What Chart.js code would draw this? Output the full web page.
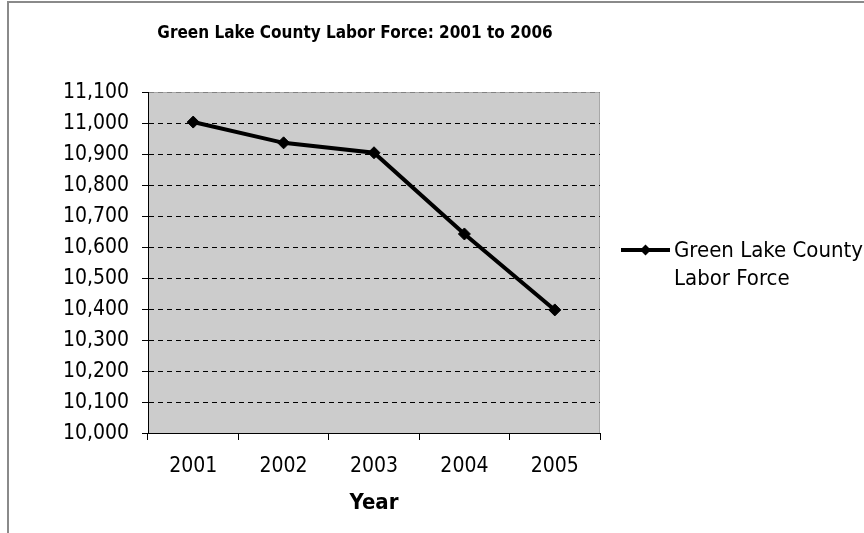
<!DOCTYPE html>
<html>
<head>
<meta charset="utf-8">
<script src="https://cdn.jsdelivr.net/npm/chart.js@4/dist/chart.umd.min.js"></script>
<style>
  html, body { margin: 0; padding: 0; background: #fff; overflow: hidden; }
  #wrap { position: relative; width: 864px; height: 533px; }
  #frame { position: absolute; left: 7px; top: 1px; width: 900px; height: 600px; border: 2px solid #8a8a8a; }
  canvas { position: absolute; left: 0; top: 0; }
</style>
</head>
<body>
<div id="wrap">
  <div id="frame"></div>
  <canvas id="chart" width="864" height="533"></canvas>
</div>
<script>
var FONT = "'DejaVu Sans Condensed', 'DejaVu Sans', sans-serif";

var chartTitle = 'Green Lake County Labor Force: 2001 to 2006';
var xTitle = 'Year';
var seriesName = 'Green Lake County Labor Force';
var years = ['2001', '2002', '2003', '2004', '2005'];
var laborForce = [11003, 10936, 10904, 10642, 10397];
var yMin = 10000, yMax = 11100, yStep = 100;

// plot background, title and the side legend
var decor = {
    id: 'decor',
    beforeDraw: function(chart) {
        var ctx = chart.ctx, a = chart.chartArea;
        ctx.save();
        ctx.fillStyle = '#cccccc';
        ctx.fillRect(a.left, a.top, a.right - a.left, a.bottom - a.top);
        ctx.strokeStyle = '#a8a8a8';
        ctx.lineWidth = 1;
        ctx.beginPath();
        ctx.moveTo(a.left, a.top + 0.5);
        ctx.lineTo(a.right - 0.5, a.top + 0.5);
        ctx.lineTo(a.right - 0.5, a.bottom);
        ctx.stroke();
        ctx.restore();
    },
    afterDraw: function(chart) {
        var ctx = chart.ctx;
        ctx.save();
        ctx.fillStyle = '#000';
        ctx.font = 'bold 17px ' + FONT;
        ctx.textAlign = 'center';
        ctx.textBaseline = 'middle';
        ctx.fillText(chartTitle, 355, 34);

        // legend entry
        var ds = chart.data.datasets[0];
        ctx.strokeStyle = ds.borderColor;
        ctx.lineWidth = 4;
        ctx.beginPath();
        ctx.moveTo(621, 250);
        ctx.lineTo(670, 250);
        ctx.stroke();
        ctx.beginPath();
        ctx.moveTo(645.5, 244.5);
        ctx.lineTo(651, 250);
        ctx.lineTo(645.5, 255.5);
        ctx.lineTo(640, 250);
        ctx.closePath();
        ctx.fillStyle = ds.pointBackgroundColor;
        ctx.fill();

        ctx.fillStyle = '#000';
        ctx.font = '22px ' + FONT;
        ctx.textAlign = 'left';
        var words = ds.label.split(' '), lines = [], cur = '';
        words.forEach(function(w) {
            var t = cur ? cur + ' ' + w : w;
            if (cur && ctx.measureText(t).width > 215) { lines.push(cur); cur = w; }
            else cur = t;
        });
        lines.push(cur);
        lines.forEach(function(l, i) { ctx.fillText(l, 674, 251 + i * 28); });
        ctx.restore();
    }
};

new Chart(document.getElementById('chart'), {
    type: 'line',
    data: {
        labels: years,
        datasets: [{
            label: seriesName,
            data: laborForce,
            borderColor: '#000',
            borderWidth: 4,
            pointStyle: 'rectRot',
            pointRadius: 6,
            pointBackgroundColor: '#000',
            pointBorderColor: '#000',
            pointBorderWidth: 1,
            tension: 0,
            fill: false
        }]
    },
    options: {
        responsive: false,
        animation: false,
        devicePixelRatio: 1,
        layout: { padding: { top: 92, right: 264, left: 0, bottom: 0 } },
        plugins: {
            legend: { display: false },
            title: { display: false },
            tooltip: { enabled: false }
        },
        scales: {
            x: {
                offset: true,
                afterFit: function(s) { s.height = 100; },
                grid: { offset: true, drawOnChartArea: false, color: '#000', tickLength: 7 },
                border: { color: '#000', width: 1 },
                ticks: { color: '#000', padding: 14, font: { family: FONT, size: 21 } },
                title: { display: true, text: xTitle, color: '#000', padding: { top: 4, bottom: 17 },
                         font: { family: FONT, size: 22, weight: 'bold' } }
            },
            y: {
                min: yMin,
                max: yMax,
                afterFit: function(s) { s.width = 148; },
                grid: {
                    color: function(c) { return c.tick && c.tick.value === yMax ? '#808080' : '#000'; },
                    tickColor: '#000',
                    tickLength: 6,
                    lineWidth: 1
                },
                border: { color: '#000', width: 1, dash: [5, 4] },
                ticks: {
                    stepSize: yStep,
                    color: '#000',
                    padding: 13,
                    labelOffset: 1,
                    font: { family: FONT, size: 21 },
                    callback: function(v) { return v.toLocaleString('en-US'); }
                }
            }
        }
    },
    plugins: [decor]
});
</script>
</body>
</html>
